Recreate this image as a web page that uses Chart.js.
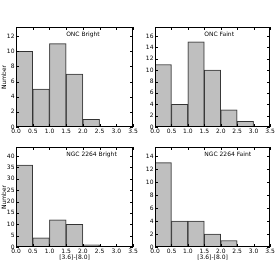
<!DOCTYPE html>
<html><head><meta charset="utf-8">
<script src="https://cdn.jsdelivr.net/npm/chart.js@4/dist/chart.umd.min.js"></script>
<style>
html,body{margin:0;padding:0;background:#fff;width:275px;height:265px;overflow:hidden}
canvas{position:absolute;left:0;top:0}
</style></head><body>
<canvas id="c0" width="275" height="265"></canvas>
<canvas id="c1" width="275" height="265"></canvas>
<canvas id="c2" width="275" height="265"></canvas>
<canvas id="c3" width="275" height="265"></canvas>
<script>
// ---- data ----
const binCenters = [0.25, 0.75, 1.25, 1.75, 2.25, 2.75, 3.25];
const xTickValues = [0, 0.5, 1, 1.5, 2, 2.5, 3, 3.5];
const oncBright = [10, 5, 11, 7, 1, 0, 0];
const oncFaint  = [11, 4, 15, 10, 3, 1, 0];
const ngcBright = [36, 4, 12, 10, 1, 0, 0];
const ngcFaint  = [13, 4, 4, 2, 1, 0, 0];
const panelTitles = ['ONC Bright', 'ONC Faint', 'NGC 2264 Bright', 'NGC 2264 Faint'];
const yMaxes = [13.2, 17.6, 44, 15.4];
const ySteps = [2, 2, 5, 2];
const xLabel = '[3.6]-[8.0]';
const yLabel = 'Number';

// ---- layout (chart areas) ----
const W = 275, H = 265;
const areas = [
  {l: 16, r: 133, t: 27, b: 127},
  {l: 155, r: 270, t: 27, b: 127},
  {l: 16, r: 133, t: 147, b: 247},
  {l: 155, r: 270, t: 147, b: 247}
];
const FONT = 'DejaVu Sans';

const framePlugin = {
  id: 'frame',
  afterDatasetsDraw(chart, args, opts) {
    const {ctx, chartArea: a, scales: {x, y}} = chart;
    ctx.save();
    ctx.strokeStyle = '#000';
    ctx.lineWidth = 1;
    ctx.beginPath();
    x.ticks.forEach(t => {
      const px = Math.round(x.getPixelForValue(t.value)) + 0.5;
      ctx.moveTo(px, a.bottom); ctx.lineTo(px, a.bottom - 3);
      ctx.moveTo(px, a.top); ctx.lineTo(px, a.top + 3);
    });
    y.ticks.forEach(t => {
      const py = Math.round(y.getPixelForValue(t.value)) + 0.5;
      ctx.moveTo(a.left, py); ctx.lineTo(a.left + 3, py);
      ctx.moveTo(a.right, py); ctx.lineTo(a.right - 3, py);
    });
    ctx.stroke();
    ctx.strokeRect(Math.round(a.left) + 0.5, Math.round(a.top) + 0.5,
                   Math.round(a.right - a.left) - 1, Math.round(a.bottom - a.top) - 1);
    ctx.fillStyle = '#000';
    ctx.font = '6px "' + FONT + '"';
    ctx.textAlign = 'left';
    ctx.textBaseline = 'middle';
    ctx.fillText(opts.text, x.getPixelForValue(1.5), a.top + 7);
    ctx.restore();
  }
};

const seriesList = [oncBright, oncFaint, ngcBright, ngcFaint];

seriesList.forEach((vals, i) => {
  const a = areas[i];
  const isLeft = (i % 2 === 0);
  const isBottom = (i >= 2);
  new Chart(document.getElementById('c' + i), {
    type: 'bar',
    data: {
      datasets: [{
        data: binCenters.map((c, k) => ({x: c, y: vals[k]})),
        backgroundColor: '#bfbfbf',
        borderColor: '#333333',
        borderWidth: 1,
        borderSkipped: false,
        barPercentage: 1,
        categoryPercentage: 1
      }]
    },
    options: {
      responsive: false,
      animation: false,
      events: [],
      layout: {padding: {left: 0, top: a.t, right: W - a.r, bottom: 0}},
      plugins: {
        legend: {display: false},
        tooltip: {enabled: false},
        frame: {text: panelTitles[i]}
      },
      scales: {
        x: {
          type: 'linear',
          offset: false,
          min: 0, max: 3.5,
          afterBuildTicks: s => { s.ticks = xTickValues.map(v => ({value: v})); },
          ticks: {
            callback: v => Number(v).toFixed(1),
            font: {family: FONT, size: 6},
            color: '#000',
            padding: 1,
            maxRotation: 0,
            autoSkip: false
          },
          grid: {display: false, drawTicks: false, offset: false},
          border: {display: false},
          title: {
            display: isBottom,
            text: xLabel,
            font: {family: FONT, size: 6},
            color: '#000',
            padding: {top: 0, bottom: 3.5}
          },
          afterFit: s => { s.height = H - a.b; s.paddingLeft = 0; s.paddingRight = 0; }
        },
        y: {
          type: 'linear',
          min: 0, max: yMaxes[i],
          ticks: {
            stepSize: ySteps[i],
            includeBounds: false,
            font: {family: FONT, size: 6},
            color: '#000',
            padding: 1.5
          },
          grid: {display: false, drawTicks: false},
          border: {display: false},
          title: {
            display: isLeft,
            text: yLabel,
            font: {family: FONT, size: 6},
            color: '#000',
            padding: {top: 0.5, bottom: 0}
          },
          afterFit: s => { s.width = a.l; s.paddingTop = 0; s.paddingBottom = 0; }
        }
      }
    },
    plugins: [framePlugin]
  });
});
</script>
</body></html>
